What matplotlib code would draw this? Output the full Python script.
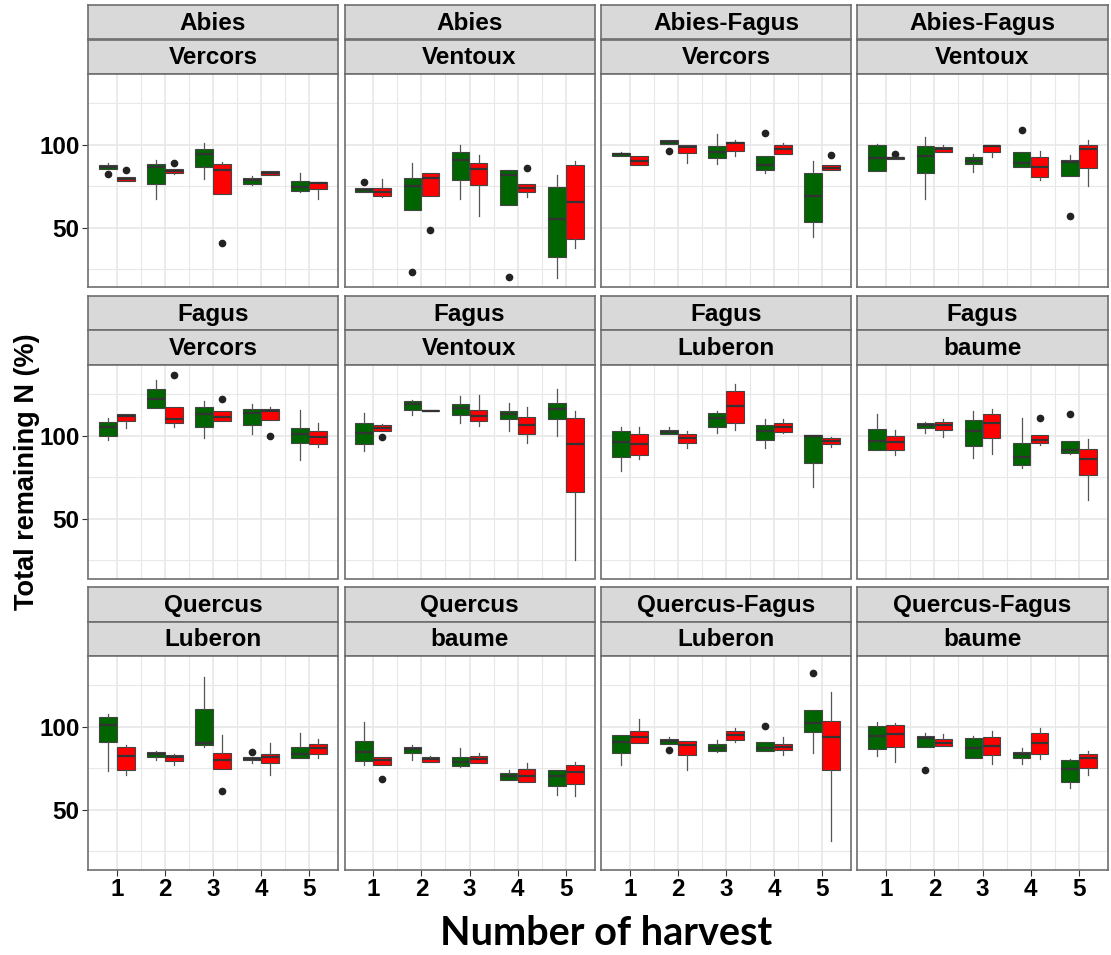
"""
Boxplots of total remaining N per harvest, faceted by species and site
"""
import matplotlib
matplotlib.use('Agg')
import matplotlib.pyplot as plt
import numpy as np

# facet labels (row by row, 4 per row)
species = ['Abies', 'Abies', 'Abies-Fagus', 'Abies-Fagus',
           'Fagus', 'Fagus', 'Fagus', 'Fagus',
           'Quercus', 'Quercus', 'Quercus-Fagus', 'Quercus-Fagus']
sites = ['Vercors', 'Ventoux', 'Vercors', 'Ventoux',
         'Vercors', 'Ventoux', 'Luberon', 'baume',
         'Luberon', 'baume', 'Luberon', 'baume']
harvests = [1, 2, 3, 4, 5]

# box stats per harvest: [whisker low, Q1, median, Q3, whisker high]
abies_vercors_g = [[85.3, 85.3, 86.7, 87.9, 88.9], [67.5, 76.2, 86.7, 88.5, 90.7],
                   [79.2, 86.3, 94.6, 97.2, 100.8], [75.8, 76.6, 79.0, 80.0, 81.0],
                   [71.8, 72.2, 74.6, 78.2, 82.7]]
abies_vercors_r = [[78.2, 78.2, 79.4, 80.6, 80.6], [82.4, 82.9, 84.3, 85.5, 85.5],
                   [70.6, 70.6, 84.5, 88.5, 89.7], [81.9, 81.9, 82.9, 83.9, 84.3],
                   [67.5, 73.2, 77.0, 77.6, 77.6]]
abies_ventoux_g = [[71.6, 71.6, 73.0, 74.2, 74.2], [60.5, 60.5, 75.2, 79.8, 88.7],
                   [67.1, 78.6, 91.1, 95.4, 100.0], [63.9, 63.9, 81.5, 84.9, 84.9],
                   [19.8, 32.3, 55.0, 74.8, 81.9]]
abies_ventoux_r = [[68.8, 69.2, 71.6, 74.2, 79.2], [69.2, 69.2, 79.8, 83.1, 83.1],
                   [57.0, 75.8, 85.1, 89.1, 94.0], [68.8, 71.6, 73.8, 76.6, 76.6],
                   [37.7, 42.9, 65.7, 87.7, 90.3]]
abfa_vercors_g = [[93.5, 93.5, 94.4, 95.0, 95.8], [100.6, 100.6, 101.4, 102.6, 102.6],
                  [88.3, 92.3, 95.8, 99.0, 106.5], [82.9, 84.7, 87.7, 93.1, 93.1],
                  [44.6, 53.6, 69.2, 83.1, 90.5]]
abfa_vercors_r = [[87.7, 87.7, 90.5, 93.1, 93.1], [88.7, 94.8, 98.4, 99.6, 99.6],
                  [93.0, 96.4, 101.0, 101.8, 103.0], [94.2, 94.2, 97.4, 100.0, 101.0],
                  [84.7, 84.7, 85.7, 87.5, 87.5]]
abfa_ventoux_g = [[83.9, 83.9, 92.3, 99.6, 100.6], [67.5, 82.9, 93.3, 99.0, 104.4],
                  [83.3, 88.3, 90.5, 92.5, 94.2], [86.5, 86.5, 89.3, 95.4, 95.4],
                  [81.3, 81.3, 89.7, 91.1, 93.8]]
abfa_ventoux_r = [[91.7, 91.7, 92.1, 92.5, 92.5], [95.8, 95.8, 97.2, 98.4, 99.6],
                  [92.9, 95.8, 99.4, 100.0, 100.0], [78.8, 80.4, 86.3, 92.5, 96.0],
                  [75.2, 85.9, 97.4, 100.0, 103.0]]
fagus_vercors_g = [[97.4, 100.0, 105.0, 108.0, 110.4], [116.8, 116.8, 122.2, 128.0, 133.8],
                   [98.4, 105.4, 113.4, 117.4, 121.0], [100.8, 106.6, 113.8, 116.0, 119.4],
                   [85.4, 95.6, 100.8, 104.4, 115.8]]
fagus_vercors_r = [[104.4, 109.0, 112.2, 113.4, 113.4], [105.0, 107.4, 110.2, 117.4, 117.4],
                   [109.0, 109.0, 111.4, 114.8, 114.8], [109.6, 109.6, 114.8, 116.4, 117.4],
                   [93.0, 95.0, 99.0, 102.8, 107.8]]
fagus_ventoux_g = [[90.8, 95.0, 101.4, 107.4, 114.0], [112.4, 115.4, 119.0, 120.8, 121.6],
                   [107.8, 112.4, 117.0, 119.2, 124.0], [103.0, 109.8, 113.4, 115.0, 119.8],
                   [99.8, 109.8, 116.0, 120.0, 128.4]]
fagus_ventoux_r = [[103.0, 103.0, 104.8, 106.4, 107.0], [115.0, 115.0, 115.2, 115.4, 115.4],
                   [106.0, 109.0, 111.8, 115.4, 124.6], [95.4, 101.0, 106.4, 111.4, 117.4],
                   [25.4, 66.0, 94.8, 110.8, 115.0]]
fagus_luberon_g = [[78.8, 87.0, 96.0, 102.8, 105.4], [101.0, 101.0, 102.2, 103.4, 105.0],
                   [101.4, 105.4, 111.0, 114.0, 115.0], [92.6, 97.4, 103.0, 106.4, 109.8],
                   [69.4, 83.8, 100.0, 100.4, 100.4]]
fagus_luberon_r = [[85.8, 88.4, 95.0, 101.0, 105.0], [92.4, 95.6, 98.6, 101.0, 103.0],
                   [103.6, 107.6, 117.8, 127.2, 131.0], [101.8, 102.4, 105.0, 107.6, 109.8],
                   [93.0, 95.0, 97.0, 98.4, 99.4]]
fagus_baume_g = [[91.6, 91.6, 96.8, 104.0, 113.4], [101.8, 104.4, 106.2, 107.6, 108.4],
                 [86.8, 94.0, 102.6, 109.2, 115.0], [80.4, 82.4, 87.0, 95.8, 111.0],
                 [89.0, 89.8, 91.4, 97.0, 97.0]]
fagus_baume_r = [[88.4, 91.6, 96.4, 100.0, 103.4], [99.0, 103.4, 106.2, 108.2, 109.8],
                 [89.0, 98.4, 107.4, 113.4, 116.4], [94.4, 95.4, 97.4, 100.4, 100.4],
                 [61.0, 76.4, 86.0, 92.2, 98.0]]
quercus_luberon_g = [[73.4, 91.1, 101.0, 105.6, 107.7], [79.8, 81.9, 83.5, 84.5, 85.3],
                     [87.9, 88.7, 90.3, 110.5, 129.8], [78.2, 79.8, 80.8, 81.9, 81.9],
                     [81.3, 81.3, 83.7, 87.9, 96.4]]
quercus_luberon_r = [[71.2, 74.2, 82.3, 87.9, 88.7], [76.8, 79.4, 81.5, 82.7, 83.5],
                     [74.6, 74.6, 79.8, 83.9, 95.0], [71.2, 78.2, 81.5, 83.3, 90.3],
                     [81.3, 83.7, 86.9, 89.5, 92.5]]
quercus_baume_g = [[76.8, 79.4, 84.7, 91.3, 102.6], [79.8, 84.3, 86.7, 87.9, 88.7],
                   [75.8, 76.6, 78.8, 81.9, 87.3], [67.7, 67.7, 70.2, 72.4, 73.8],
                   [58.7, 64.1, 70.2, 73.8, 74.2]]
quercus_baume_r = [[77.2, 77.2, 79.8, 81.5, 81.9], [78.8, 78.8, 80.4, 81.9, 82.3],
                   [78.2, 78.2, 80.4, 82.5, 83.9], [66.7, 66.7, 70.2, 74.8, 78.4],
                   [58.0, 65.7, 72.6, 77.2, 78.8]]
qufa_luberon_g = [[77.0, 84.3, 91.1, 94.8, 94.8], [89.9, 89.9, 91.3, 92.5, 94.0],
                  [84.5, 85.3, 87.3, 89.5, 92.3], [85.3, 85.3, 87.1, 90.9, 90.9],
                  [84.3, 97.0, 102.4, 110.0, 110.0]]
qufa_luberon_r = [[90.5, 90.5, 93.8, 97.2, 104.4], [74.2, 82.9, 88.7, 91.3, 91.3],
                  [90.9, 92.1, 95.2, 97.4, 99.0], [83.1, 85.9, 87.9, 89.9, 94.0],
                  [31.0, 74.2, 94.0, 103.6, 120.8]]
qufa_baume_g = [[82.3, 86.3, 94.4, 100.6, 103.0], [87.5, 87.5, 93.3, 94.4, 96.0],
                [81.3, 81.3, 87.3, 93.3, 94.4], [77.8, 81.3, 83.3, 84.5, 86.9],
                [63.3, 66.7, 74.6, 79.8, 80.4]]
qufa_baume_r = [[78.8, 87.9, 95.6, 101.0, 102.0], [88.5, 88.5, 90.3, 92.5, 95.6],
                [77.8, 83.1, 88.5, 94.0, 97.2], [80.4, 83.5, 90.3, 96.0, 99.4],
                [70.8, 75.2, 81.3, 83.3, 85.5]]

# outliers per panel: (harvest, value)
green_out = [[(1, 82.3)], [(1, 77.8), (2, 23.4), (4, 20.4)], [(2, 96.4), (4, 107.3)],
             [(4, 108.9), (5, 57.0)], [], [], [], [(5, 113.2)],
             [(4, 84.9)], [], [(2, 85.9), (4, 100.4), (5, 132.5)], [(2, 74.2)]]
red_out = [[(1, 84.7), (2, 88.9), (3, 40.5)], [(2, 48.8), (4, 85.9)], [(5, 93.8)],
           [(1, 94.4)], [(2, 136.8), (3, 122.0), (4, 99.8)], [(1, 99.0)], [],
           [(4, 110.4)], [(3, 61.3)], [(1, 68.8)], [], []]

green_boxes = [abies_vercors_g, abies_ventoux_g, abfa_vercors_g, abfa_ventoux_g,
               fagus_vercors_g, fagus_ventoux_g, fagus_luberon_g, fagus_baume_g,
               quercus_luberon_g, quercus_baume_g, qufa_luberon_g, qufa_baume_g]
red_boxes = [abies_vercors_r, abies_ventoux_r, abfa_vercors_r, abfa_ventoux_r,
             fagus_vercors_r, fagus_ventoux_r, fagus_luberon_r, fagus_baume_r,
             quercus_luberon_r, quercus_baume_r, qufa_luberon_r, qufa_baume_r]

W, H = 1111, 955
fig = plt.figure(figsize=(W / 100, H / 100), dpi=100)
plt.rcParams['font.family'] = ['Liberation Sans', 'DejaVu Sans']


def px_rect(left, top, width, height):
    return [left / W, 1 - (top + height) / H, width / W, height / H]


def make_stats(rows, outs):
    stats = []
    for h, (lo, q1, med, q3, hi) in zip(harvests, rows):
        fl = [v for (k, v) in outs if k == h]
        stats.append(dict(whislo=lo, q1=q1, med=med, q3=q3, whishi=hi, fliers=fl))
    return stats


# y range shared by all panels (5% expansion like ggplot)
all_vals = []
for rows in green_boxes + red_boxes:
    for r in rows:
        all_vals += [r[0], r[4]]
for outs in green_out + red_out:
    all_vals += [v for (_, v) in outs]
ymin, ymax = min(all_vals), max(all_vals)
pad = 0.05 * (ymax - ymin)
ylim = (ymin - pad, ymax + pad)

col_left = [88, 344.5, 601, 857.5]
panel_w = 250
row_top = [5, 296, 587]
strip_h = 34.5
panel_h = 213.5

border = '#6e6e6e'
grid_col = '#E8E8E8'
fills = {'g': '#006400', 'r': '#FF0000'}
offset = 0.1875
bw = 0.37

for i in range(12):
    row, col = divmod(i, 4)
    x0 = col_left[col]
    y0 = row_top[row]

    # two strips
    for k, label in enumerate([species[i], sites[i]]):
        sax = fig.add_axes(px_rect(x0, y0 + k * strip_h, panel_w, strip_h))
        sax.set_facecolor('#D9D9D9')
        sax.set_xticks([])
        sax.set_yticks([])
        for sp in sax.spines.values():
            sp.set_color(border)
            sp.set_linewidth(1.2)
        sax.text(0.5, 0.47, label, ha='center', va='center', fontsize=17.5,
                 fontweight='bold', transform=sax.transAxes)

    ax = fig.add_axes(px_rect(x0, y0 + 2 * strip_h, panel_w, panel_h))
    ax.set_xlim(0.4, 5.6)
    ax.set_ylim(*ylim)
    ax.set_xticks(harvests)
    ax.set_xticks([1.5, 2.5, 3.5, 4.5], minor=True)
    ax.set_yticks([50, 100])
    ax.set_yticks([25, 75, 125], minor=True)
    ax.grid(True, which='major', color=grid_col, linewidth=1.2)
    ax.grid(True, which='minor', color=grid_col, linewidth=0.8)
    ax.set_axisbelow(True)
    for sp in ax.spines.values():
        sp.set_color(border)
        sp.set_linewidth(1.2)
    ax.tick_params(which='minor', length=0)
    ax.tick_params(which='major', length=4, color='#333333', width=0.8,
                   labelsize=17.5, pad=2)
    for lab in ax.get_xticklabels() + ax.get_yticklabels():
        lab.set_fontweight('bold')
    if col != 0:
        ax.tick_params(axis='y', which='major', left=False, labelleft=False)
    if row != 2:
        ax.tick_params(axis='x', which='major', bottom=False, labelbottom=False)

    for key, rows, outs, sign in [('g', green_boxes[i], green_out[i], -1),
                                  ('r', red_boxes[i], red_out[i], 1)]:
        pos = [h + sign * offset for h in harvests]
        ax.bxp(make_stats(rows, outs), positions=pos, widths=bw,
               patch_artist=True, showcaps=False, manage_ticks=False,
               boxprops=dict(facecolor=fills[key], edgecolor='#444444', linewidth=0.8),
               medianprops=dict(color='#333333', linewidth=1.6),
               whiskerprops=dict(color='#555555', linewidth=0.9),
               flierprops=dict(marker='o', markersize=4.5, markerfacecolor='#222222',
                               markeredgecolor='#222222'))

fig.text(27 / W, 1 - 472 / H, 'Total remaining N (%)', rotation=90, ha='center',
         va='center', fontsize=19.5, fontweight='bold')
fig.text(606 / W, 1 - 933 / H, 'Number of harvest', ha='center', va='center',
         fontsize=28.5, fontweight='bold', family=['Lato', 'DejaVu Sans'])

plt.savefig('out.png', dpi=100)
